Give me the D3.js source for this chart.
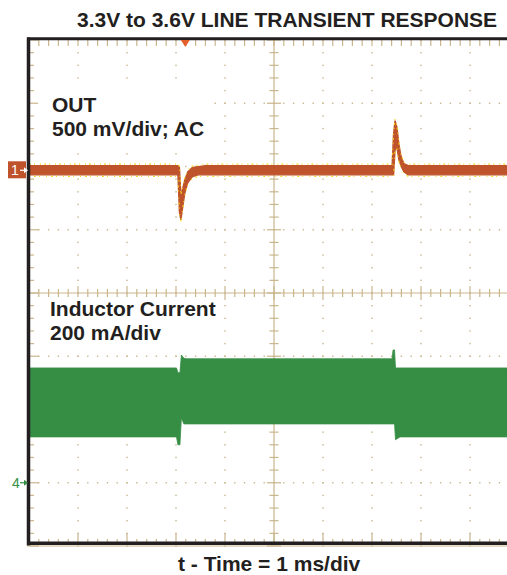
<html>
<head>
<meta charset="UTF-8">
<title>3.3V to 3.6V Line Transient Response</title>
<style>
  * {
    margin: 0;
    padding: 0;
  }

  body {
    background: #fff;
  }

  svg {
    display: block;
    font-family: "Liberation Sans", Arial, sans-serif;
  }
</style>
</head>
<body>
<div class="visHolder"></div>
<script src="https://cdnjs.cloudflare.com/ajax/libs/d3/7.8.5/d3.min.js"></script>
<script>
  // horizontal: 1 ms/div, vertical: 8 divisions
  var timeDomain = [-5, 5];
  var divDomain = [-4, 4];
  var triggerTime = -1.81;

  // OUT, 500 mV/div, AC coupled: upper and lower edge of the trace (mV)
  var outTime = [-5, -1.96, -1.93, -1.90, -1.86, -1.82, -1.76, -1.67, -1.55, -1.40, 2.41, 2.44, 2.47, 2.51, 2.55, 2.59, 2.65, 2.74, 5];
  var outHigh = [36, 36, 20, -202, -139, -75, -12, 20, 28, 36, 36, 282, 393, 337, 202, 115, 52, 36, 36];
  var outLow = [-36, -36, -329, -393, -282, -179, -99, -52, -36, -36, -36, -36, 163, 179, 83, 36, -12, -36, -36];

  // Inductor current, 200 mA/div: upper and lower edge of the ripple band (mA)
  var ilTime = [-5, -1.99, -1.96, -1.92, -1.89, -1.84, -1.78, 2.41, 2.43, 2.46, 2.48, 2.57, 5];
  var ilHigh = [363, 363, 348, 348, 404, 394, 392, 392, 420, 420, 363, 363, 363];
  var ilLow = [145, 145, 120, 120, 205, 186, 186, 186, 186, 186, 136, 145, 145];

  var ch1 = { offset: 1.94, perDiv: 500, color: '#bf532b' };
  var ch4 = { offset: -3, perDiv: 200, color: '#368e44' };

  var gridColor = '#c9b68d',
    ink = '#231f20';

  var svg = d3.select('.visHolder').append('svg').
  attr('width', 507).
  attr('height', 575);

  var x = d3.scaleLinear().domain(timeDomain).range([29, 519]);
  var y = d3.scaleLinear().domain(divDomain).range([546, 40]);

  var minorT = d3.range(-5, 5.001, 0.2);
  var minorD = d3.range(-4, 4.001, 0.2);
  var isMajor = function(v) {
    return Math.abs(v - Math.round(v)) < 1e-6;
  };

  var grid = svg.append('g').attr('class', 'graticule');

  // dotted division lines
  d3.range(-4, 5).filter(function(t) { return t !== 0; }).forEach(function(t) {
    grid.append('g').selectAll('rect').
    data(minorD).
    enter().
    append('rect').
    attr('x', x(t) - 0.7).
    attr('y', function(d) { return y(d) - 0.7; }).
    attr('width', 1.4).
    attr('height', 1.4).
    attr('fill', gridColor);
  });
  d3.range(-3, 4).filter(function(d) { return d !== 0; }).forEach(function(dv) {
    grid.append('g').selectAll('rect').
    data(minorT).
    enter().
    append('rect').
    attr('x', function(t) { return x(t) - 0.7; }).
    attr('y', y(dv) - 0.7).
    attr('width', 1.4).
    attr('height', 1.4).
    attr('fill', gridColor);
  });

  // centre cross
  grid.append('line').
  attr('x1', x(0)).attr('x2', x(0)).
  attr('y1', y(4)).attr('y2', y(-4)).
  attr('stroke', gridColor).attr('stroke-width', 1.2);
  grid.append('line').
  attr('x1', x(-5)).attr('x2', x(5)).
  attr('y1', y(0)).attr('y2', y(0)).
  attr('stroke', gridColor).attr('stroke-width', 1.2);

  grid.append('g').selectAll('line').
  data(minorT).
  enter().
  append('line').
  attr('x1', function(t) { return x(t); }).
  attr('x2', function(t) { return x(t); }).
  attr('y1', function(t) { return y(0) - (isMajor(t) ? 7 : 4); }).
  attr('y2', function(t) { return y(0) + (isMajor(t) ? 7 : 4); }).
  attr('stroke', gridColor).attr('stroke-width', 1.2);

  grid.append('g').selectAll('line').
  data(minorD).
  enter().
  append('line').
  attr('y1', function(d) { return y(d); }).
  attr('y2', function(d) { return y(d); }).
  attr('x1', function(d) { return x(0) - (isMajor(d) ? 7 : 4.5); }).
  attr('x2', function(d) { return x(0) + (isMajor(d) ? 7 : 4.5); }).
  attr('stroke', gridColor).attr('stroke-width', 1.2);

  // edge ticks
  grid.append('g').selectAll('line').
  data(minorT).
  enter().
  append('line').
  attr('x1', function(t) { return x(t); }).
  attr('x2', function(t) { return x(t); }).
  attr('y1', y(4)).
  attr('y2', y(4) + 6).
  attr('stroke', gridColor).attr('stroke-width', 1.2);

  grid.append('g').selectAll('line').
  data(minorT).
  enter().
  append('line').
  attr('x1', function(t) { return x(t); }).
  attr('x2', function(t) { return x(t); }).
  attr('y1', y(-4) - 3).
  attr('y2', function(t) { return y(-4) - (isMajor(t) ? 13 : 7); }).
  attr('stroke', gridColor).attr('stroke-width', 1.2);

  grid.append('g').selectAll('line').
  data(minorD).
  enter().
  append('line').
  attr('y1', function(d) { return y(d); }).
  attr('y2', function(d) { return y(d); }).
  attr('x1', 30).
  attr('x2', function(d) { return isMajor(d) ? 39 : 34; }).
  attr('stroke', gridColor).attr('stroke-width', 1.2);

  grid.append('line').
  attr('x1', 27).attr('x2', 507).
  attr('y1', y(-4)).attr('y2', y(-4)).
  attr('stroke', gridColor).attr('stroke-width', 1.2);

  // label knock-outs
  svg.append('rect').attr('x', 38).attr('y', 88).attr('width', 176).attr('height', 54).attr('fill', '#fff');
  svg.append('rect').attr('x', 38).attr('y', 297).attr('width', 186).attr('height', 49).attr('fill', '#fff');

  // traces
  svg.append('clipPath').attr('id', 'screen').
  append('rect').attr('x', 30).attr('y', 40).attr('width', 489).attr('height', 503);

  var traces = svg.append('g').attr('clip-path', 'url(#screen)');

  var ilData = ilTime.map(function(t, i) {
    return { t: t, hi: ilHigh[i], lo: ilLow[i] };
  });
  var outData = outTime.map(function(t, i) {
    return { t: t, hi: outHigh[i], lo: outLow[i] };
  });

  var ilY = function(v) { return y(ch4.offset + v / ch4.perDiv); };
  var outY = function(v) { return y(ch1.offset + v / ch1.perDiv); };

  traces.append('path').
  datum(ilData).
  attr('d', d3.area().
    x(function(d) { return x(d.t); }).
    y0(function(d) { return ilY(d.lo); }).
    y1(function(d) { return ilY(d.hi); })).
  attr('fill', ch4.color).
  attr('stroke', ch4.color).
  attr('stroke-width', 0.8);

  traces.append('path').
  datum(outData).
  attr('d', d3.area().
    x(function(d) { return x(d.t); }).
    y0(function(d) { return outY(d.lo); }).
    y1(function(d) { return outY(d.hi); })).
  attr('fill', ch1.color).
  attr('stroke', ch1.color).
  attr('stroke-width', 1.4);

  // yellow persistence speckle along the trace edges
  ['hi', 'lo'].forEach(function(k, j) {
    traces.append('path').
    datum(outData).
    attr('d', d3.line().
      x(function(d) { return x(d.t); }).
      y(function(d) { return outY(d[k]) + (j ? 1.6 : -1.6); })).
    attr('fill', 'none').
    attr('stroke', '#f3d51a').
    attr('stroke-width', 1.3).
    attr('stroke-dasharray', j ? '1 4 2 3 1 6' : '2 3 1 5 1 3').
    attr('opacity', 0.9);
  });

  // frame
  svg.append('line').attr('x1', 28.5).attr('x2', 28.5).attr('y1', 37.5).attr('y2', 545.5).
  attr('stroke', ink).attr('stroke-width', 3.5);
  svg.append('line').attr('x1', 27).attr('x2', 507).attr('y1', 38.8).attr('y2', 38.8).
  attr('stroke', ink).attr('stroke-width', 3);
  svg.append('line').attr('x1', 27).attr('x2', 507).attr('y1', 543.3).attr('y2', 543.3).
  attr('stroke', ink).attr('stroke-width', 3.5);

  // trigger position
  svg.append('path').
  attr('d', 'M' + (x(triggerTime) - 4.5) + ',40L' + (x(triggerTime) + 4.5) + ',40L' + x(triggerTime) + ',47Z').
  attr('fill', '#e4602a');

  // channel ground markers
  var g1 = svg.append('g').attr('transform', 'translate(0,' + y(ch1.offset) + ')');
  g1.append('rect').attr('x', 8).attr('y', -9).attr('width', 18).attr('height', 17).attr('fill', ch1.color);
  g1.append('text').attr('x', 11).attr('y', 5).attr('font-size', 14).attr('fill', '#fff').text('1');
  g1.append('line').attr('x1', 20).attr('x2', 25).attr('y1', 0).attr('y2', 0).attr('stroke', '#fff').attr('stroke-width', 1.2);
  g1.append('path').attr('d', 'M24,-3L28,0L24,3Z').attr('fill', '#fff');

  var g4 = svg.append('g').attr('transform', 'translate(0,' + y(ch4.offset) + ')');
  g4.append('text').attr('x', 12).attr('y', 5).attr('font-size', 14).attr('fill', ch4.color).text('4');
  g4.append('line').attr('x1', 20).attr('x2', 25).attr('y1', 0).attr('y2', 0).attr('stroke', ch4.color).attr('stroke-width', 1.2);
  g4.append('path').attr('d', 'M24,-3L28,0L24,3Z').attr('fill', ch4.color);

  // texts
  var txt = function(s, tx, ty) {
    svg.append('text').
    attr('x', tx).
    attr('y', ty).
    attr('font-size', 21).
    attr('font-weight', 'bold').
    attr('fill', ink).
    text(s);
  };
  txt('3.3V to 3.6V LINE TRANSIENT RESPONSE', 77, 26.5);
  txt('OUT', 52, 112);
  txt('500 mV/div; AC', 52, 135.5);
  txt('Inductor Current', 50, 316);
  txt('200 mA/div', 50, 339.5);
  txt('t - Time = 1 ms/div', 178, 571);
</script>
</body>
</html>
